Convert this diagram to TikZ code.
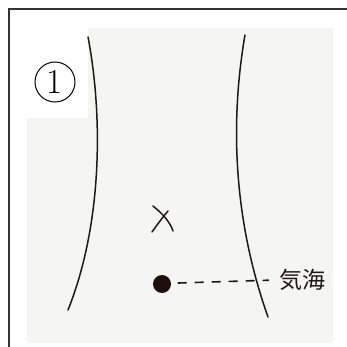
\documentclass[tikz,border=0pt]{standalone}
\usepackage{fontspec}
\newfontfamily\jpfont{Noto Sans CJK JP}
\definecolor{paper}{RGB}{245,245,244}
\definecolor{ink}{RGB}{30,25,25}
\definecolor{spot}{RGB}{30,15,15}

\begin{document}
\begin{tikzpicture}[x=1pt,y=-1pt,line cap=round]
    \useasboundingbox (0,0) rectangle (347,347);
    % frame and paper
    \draw[line width=1.3pt,black!80] (347,9) -- (9,9) -- (9,347);
    \fill[paper] (27,28) rectangle (333,343);
    \fill[white] (27,28) rectangle (88,118);
    % body outline
    \draw[ink,line width=1.5pt] (88,37) .. controls (102,110) and (104,220) .. (68,310);
    \draw[ink,line width=1.5pt] (245,35) .. controls (232,110) and (230,210) .. (268,317);
    % number
    \node[circle,draw,line width=1pt,inner sep=0pt,minimum size=40pt,font=\fontsize{35}{35}\selectfont] (num) at (55,82) {1};
    % navel mark
    \draw[ink,line width=1.5pt] (153,206) .. controls (163,214) and (170,222) .. (173,231);
    \draw[ink,line width=1.5pt] (152,232) .. controls (157,225) and (162,218) .. (168,211);
    % point and label
    \node[circle,fill=spot,inner sep=0pt,minimum size=18pt] (qihai) at (162,284) {};
    \node[font=\jpfont\fontsize{23}{23}\selectfont,ink] (name) at (302,280) {気海};
    \draw[ink,line width=1.6pt,dash pattern=on 8pt off 9pt,shorten >=7pt] (qihai.east) ++(7,-1) -- (name.west);
\end{tikzpicture}
\end{document}
